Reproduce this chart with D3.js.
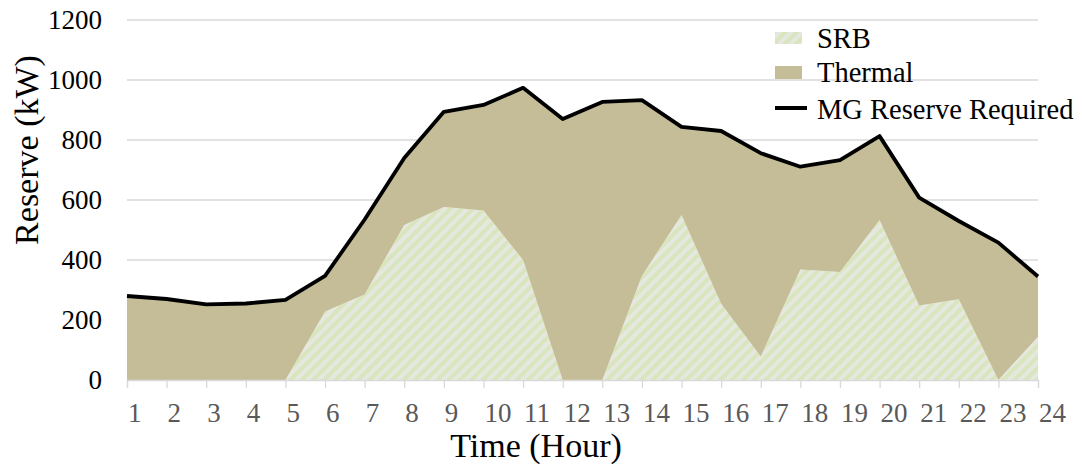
<!DOCTYPE html>
<html><head><meta charset="utf-8">
<script src="https://cdn.jsdelivr.net/npm/d3@7"></script>
<style>body{margin:0;background:#fff}svg{display:block}text{font-family:"Liberation Serif","Times New Roman",serif}</style>
</head><body><svg id="c" width="1082" height="469"></svg>
<script>
const hours = [1,2,3,4,5,6,7,8,9,10,11,12,13,14,15,16,17,18,19,20,21,22,23,24];
const srb = [0,0,0,0,0,228,285,517,577,565,400,0,0,347,550,254,78,368,360,533,248,269,0,144];
const thermal = [280,270,252,255,267,119,250,223,317,352,574,870,927,586,294,576,678,343,373,280,360,261,458,201];
const required = [280,270,252,255,267,347,535,740,894,917,974,870,927,933,844,830,756,711,733,813,608,530,458,345];
const yTicks = [0,200,400,600,800,1000,1200];
const seriesNames = ["SRB","Thermal","MG Reserve Required"];

const svg = d3.select("#c");
const L=127, R=1038, T=20, B=380;
const x = d3.scalePoint().domain(hours).range([L,R]);
const y = d3.scaleLinear().domain([0,1200]).range([B,T]);

const defs = svg.append("defs");
const pat = defs.append("pattern").attr("id","hatch").attr("patternUnits","userSpaceOnUse")
  .attr("width",8).attr("height",8).attr("patternTransform","rotate(45)");
pat.append("rect").attr("width",8).attr("height",8).attr("fill","#e5e8de");
pat.append("rect").attr("width",4).attr("height",8).attr("fill","#d9e5bd");

// gridlines
svg.append("g").selectAll("line").data(yTicks.filter(d=>d>0)).join("line")
  .attr("x1",L).attr("x2",R).attr("y1",d=>y(d)).attr("y2",d=>y(d))
  .attr("stroke","#d9d9d9").attr("stroke-width",1.3);

const rows = hours.map((h,i)=>({h, s:srb[i], t:thermal[i], r:required[i]}));
const stack = d3.stack().keys(["s","t"])(rows);
const area = d3.area().x(d=>x(d.data.h)).y0(d=>y(d[0])).y1(d=>y(d[1]));
svg.append("path").datum(stack[0]).attr("d",area).attr("fill","url(#hatch)");
svg.append("path").datum(stack[1]).attr("d",area).attr("fill","#c4bd97");

// x axis
const xa = svg.append("g").attr("transform",`translate(0,${B})`)
  .call(d3.axisBottom(x).tickSize(8).tickFormat(""));
xa.select(".domain").attr("stroke","#d9d9d9").attr("stroke-width",1.3);
xa.selectAll(".tick line").attr("stroke","#d9d9d9").attr("stroke-width",1.3);
svg.append("g").selectAll("text").data(hours).join("text")
  .attr("x",d=>x(d)+1).attr("y",422).attr("text-anchor","start")
  .attr("font-size",27).attr("fill","#595959").text(d=>d);

// y labels
svg.append("g").selectAll("text").data(yTicks).join("text")
  .attr("x",102).attr("y",d=>y(d)).attr("dy","0.35em").attr("text-anchor","end")
  .attr("font-size",27).attr("fill","#000").text(d=>d);

// line
svg.append("path").datum(rows)
  .attr("d",d3.line().x(d=>x(d.h)).y(d=>y(d.r)))
  .attr("fill","none").attr("stroke","#000").attr("stroke-width",3.8).attr("stroke-linejoin","round");

// titles
svg.append("text").attr("x",536).attr("y",457).attr("text-anchor","middle")
  .attr("font-size",34).attr("fill","#000").text("Time (Hour)");
svg.append("text").attr("transform","translate(38,150) rotate(-90)").attr("text-anchor","middle")
  .attr("font-size",34).attr("fill","#000").text("Reserve (kW)");

// legend
const lg = svg.append("g");
lg.append("rect").attr("x",775).attr("y",32).attr("width",27).attr("height",12).attr("fill","url(#hatch)");
lg.append("rect").attr("x",775).attr("y",66).attr("width",27).attr("height",13).attr("fill","#c4bd97");
lg.append("line").attr("x1",775).attr("x2",807).attr("y1",108).attr("y2",108).attr("stroke","#000").attr("stroke-width",4);
lg.selectAll("text").data(seriesNames).join("text")
  .attr("x",817).attr("y",(d,i)=>[38,72,109][i]).attr("dy","0.35em")
  .attr("font-size",28.5).attr("fill","#000").text(d=>d);
</script></body></html>
